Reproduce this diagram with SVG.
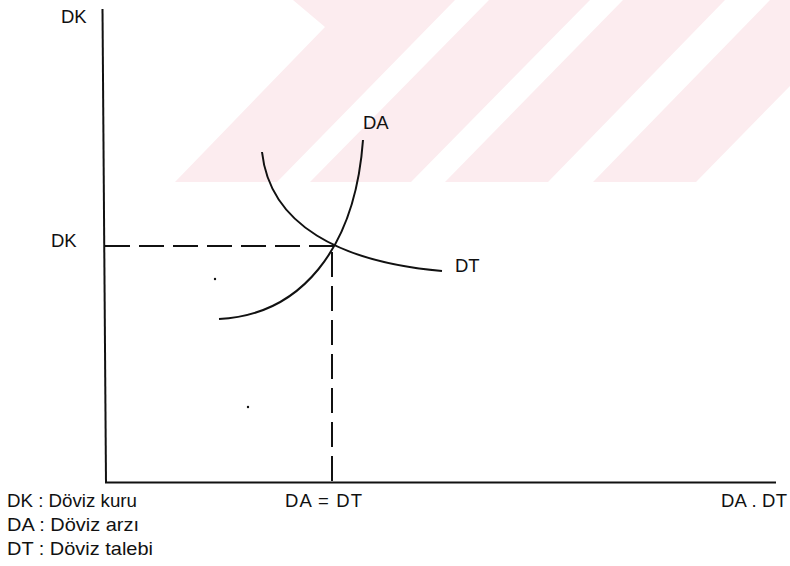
<svg xmlns="http://www.w3.org/2000/svg" width="790" height="566" viewBox="0 0 790 566">
<style>
.t{font-family:"Liberation Sans",Arial,Helvetica,sans-serif;font-size:18.5px;fill:#111}
.ax{stroke:#111;stroke-width:2;fill:none}
.cv{stroke:#111;stroke-width:2;fill:none}
.ds{stroke:#111;stroke-width:2;fill:none;stroke-dasharray:25 9}
.wm{fill:#fcecef}
</style>
<rect width="790" height="566" fill="#fff"/>
<g id="watermark">
<polygon class="wm" points="293,0 455,0 277,182 175,182 325,27"/>
<polygon class="wm" points="489,0 590,0 411,182 310,182"/>
<polygon class="wm" points="623,0 725,0 548,182 445,182"/>
<polygon class="wm" points="770,0 790,0 790,86 696,182 593,182"/>
</g>
<g id="axes">
<line class="ax" x1="102.5" y1="9" x2="106" y2="483"/>
<line class="ax" x1="105" y1="482.5" x2="776" y2="482.5"/>
</g>
<g id="guides">
<line class="ds" x1="105" y1="246" x2="334" y2="246"/>
<line class="ds" x1="332" y1="252" x2="332" y2="482"/>
</g>
<g id="curve-DA">
<path class="cv" d="M219,319 C300,315 355,250 363,140"/>
</g>
<g id="curve-DT">
<path class="cv" d="M262,152 C270,225 340,262 442,271"/>
</g>
<g id="specks">
<circle cx="215" cy="279" r="1.2" fill="#111"/>
<circle cx="248" cy="407" r="1.2" fill="#111"/>
</g>
<g id="labels">
<text class="t" x="61" y="23">DK</text>
<text class="t" x="51" y="247">DK</text>
<text class="t" x="363" y="129">DA</text>
<text class="t" x="455" y="272">DT</text>
<text class="t" x="285" y="507" textLength="77" lengthAdjust="spacing">DA = DT</text>
<text class="t" x="721" y="507" textLength="66" lengthAdjust="spacing">DA . DT</text>
</g>
<g id="legend">
<text class="t" x="7" y="507" textLength="130" lengthAdjust="spacingAndGlyphs">DK : Döviz kuru</text>
<text class="t" x="7" y="531" textLength="132" lengthAdjust="spacingAndGlyphs">DA : Döviz arzı</text>
<text class="t" x="7" y="555" textLength="146" lengthAdjust="spacingAndGlyphs">DT : Döviz talebi</text>
</g>
</svg>
